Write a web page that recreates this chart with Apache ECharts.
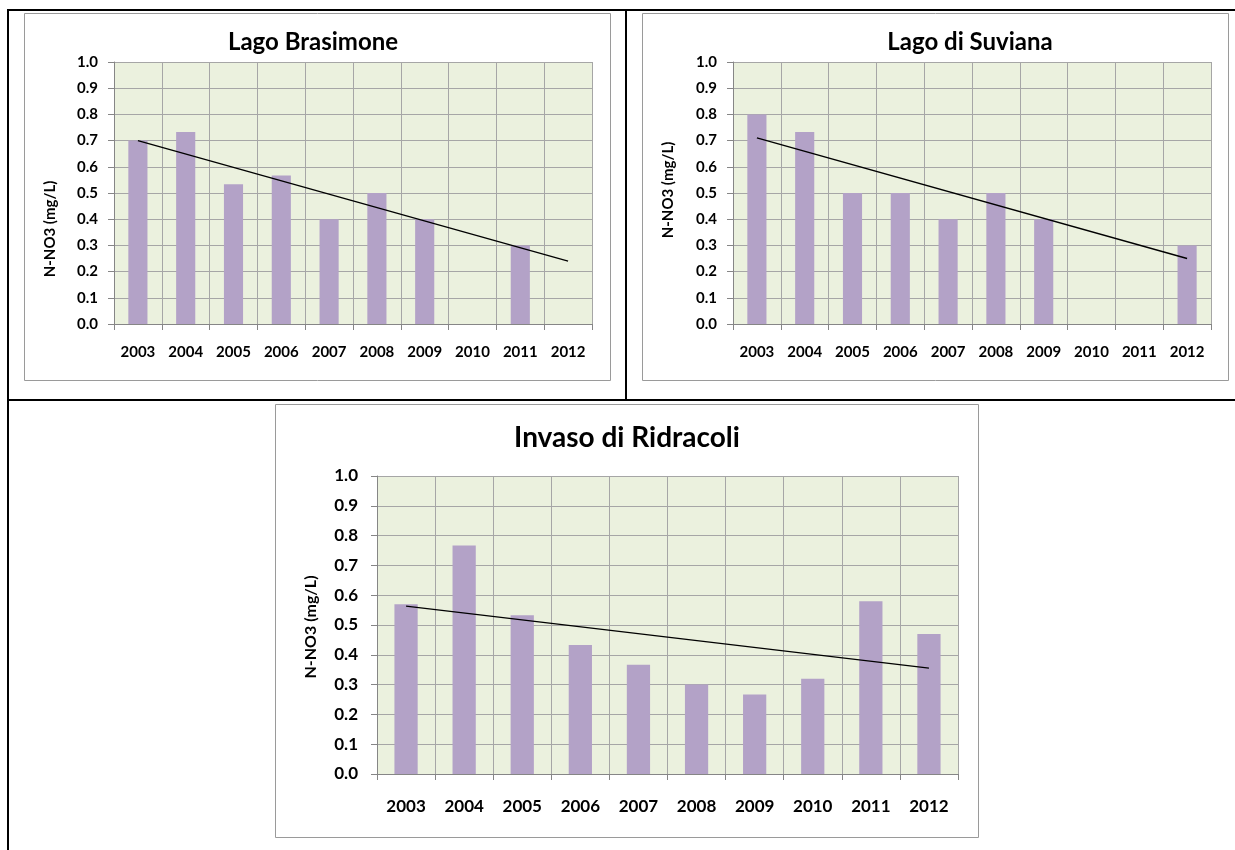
<!DOCTYPE html>
<html>
<head>
<meta charset="utf-8">
<script src="https://cdn.jsdelivr.net/npm/echarts@6/dist/echarts.min.js"></script>
<style>
  html, body { margin: 0; padding: 0; background: #fff; }
  #chart { width: 1235px; height: 850px; }
</style>
</head>
<body>
<div id="chart"></div>
<script>
// data
const years = ['2003', '2004', '2005', '2006', '2007', '2008', '2009', '2010', '2011', '2012'];
const brasimone = [0.70, 0.733, 0.533, 0.567, 0.40, 0.50, 0.40, null, 0.30, null];
const suviana = [0.80, 0.733, 0.50, 0.50, 0.40, 0.50, 0.40, null, null, 0.30];
const ridracoli = [0.57, 0.767, 0.533, 0.433, 0.367, 0.30, 0.267, 0.32, 0.58, 0.47];
// trend line ends (first year, last year)
const brasimoneTrend = [0.70, 0.24];
const suvianaTrend = [0.71, 0.25];
const ridracoliTrend = [0.563, 0.355];
const titles = ['Lago Brasimone', 'Lago di Suviana', 'Invaso di Ridracoli'];
const yName = 'N-NO3 (mg/L)';

const font = 'Lato, "Liberation Sans", sans-serif';
const grey = '#868686';
const gridGrey = '#a6a6a6';

const chart = echarts.init(document.getElementById('chart'));

const grids = [
  { left: 114, top: 62, width: 478, height: 262 },
  { left: 733, top: 62, width: 478, height: 262 },
  { left: 377, top: 476, width: 581, height: 298 }
];
const labelSize = [15, 15, 17];
const xMargin = [21, 21, 24];
const yMargin = [16, 16, 19];

function xAxis(i) {
  return {
    type: 'category', gridIndex: i, data: years,
    axisLine: { lineStyle: { color: grey } },
    axisTick: { show: true, length: 6, lineStyle: { color: grey } },
    axisLabel: { margin: xMargin[i], color: '#000', fontWeight: 'bold', fontSize: labelSize[i], fontFamily: font },
    splitLine: { show: true, lineStyle: { color: gridGrey } }
  };
}
function yAxis(i) {
  return {
    type: 'value', gridIndex: i, min: 0, max: 1, interval: 0.1,
    axisLine: { show: true, lineStyle: { color: grey } },
    axisTick: { show: true, length: 6, lineStyle: { color: grey } },
    axisLabel: { margin: yMargin[i], color: '#000', fontWeight: 'bold', fontSize: labelSize[i], fontFamily: font,
      formatter: v => v.toFixed(1) },
    splitLine: { show: true, lineStyle: { color: gridGrey } }
  };
}
function bars(i, data) {
  return { type: 'bar', xAxisIndex: i, yAxisIndex: i, data: data, barWidth: '40%',
    itemStyle: { color: '#b3a2c7' } };
}
function trend(i, t) {
  return { type: 'line', xAxisIndex: i, yAxisIndex: i, symbol: 'none', z: 5,
    data: [[years[0], t[0]], [years[years.length - 1], t[1]]],
    lineStyle: { color: '#000', width: 1.3 } };
}
function text(x, y, str, size, rot) {
  return { type: 'text', x: x, y: y, rotation: rot || 0, z: 10,
    style: { text: str, fill: '#000', fontSize: size, fontWeight: 'bold', fontFamily: font,
      textAlign: 'center', textVerticalAlign: 'middle', align: 'center', verticalAlign: 'middle' } };
}
function frame(x, y, w, h) {
  return { type: 'rect', shape: { x: x, y: y, width: w, height: h }, z: -10,
    style: { fill: '#fff', stroke: '#9a9a9a', lineWidth: 1 } };
}
function bar(x, y, w, h) {
  return { type: 'rect', shape: { x: x, y: y, width: w, height: h }, z: -5, style: { fill: '#000' } };
}

const option = {
  animation: false,
  grid: grids.map(g => Object.assign({ show: true, backgroundColor: '#ebf1de', borderWidth: 0 }, g)),
  xAxis: [xAxis(0), xAxis(1), xAxis(2)],
  yAxis: [yAxis(0), yAxis(1), yAxis(2)],
  series: [
    bars(0, brasimone), trend(0, brasimoneTrend),
    bars(1, suviana), trend(1, suvianaTrend),
    bars(2, ridracoli), trend(2, ridracoliTrend)
  ],
  graphic: [
    // page table lines
    bar(7, 9, 1228, 2),
    bar(7, 9, 2, 841),
    bar(625, 9, 2, 391),
    bar(7, 399, 1228, 2),
    // chart frames
    frame(24.5, 13.5, 586, 367),
    frame(642.5, 13.5, 586, 367),
    frame(275.5, 404.5, 703, 433),
    // titles
    text(313, 42, titles[0], 24),
    text(970, 42, titles[1], 24),
    text(627, 438, titles[2], 28),
    // y axis names
    text(50, 229, yName, 15, Math.PI / 2),
    text(668, 190, yName, 15, Math.PI / 2),
    text(311, 627, yName, 16, Math.PI / 2)
  ]
};
chart.setOption(option);
</script>
</body>
</html>
